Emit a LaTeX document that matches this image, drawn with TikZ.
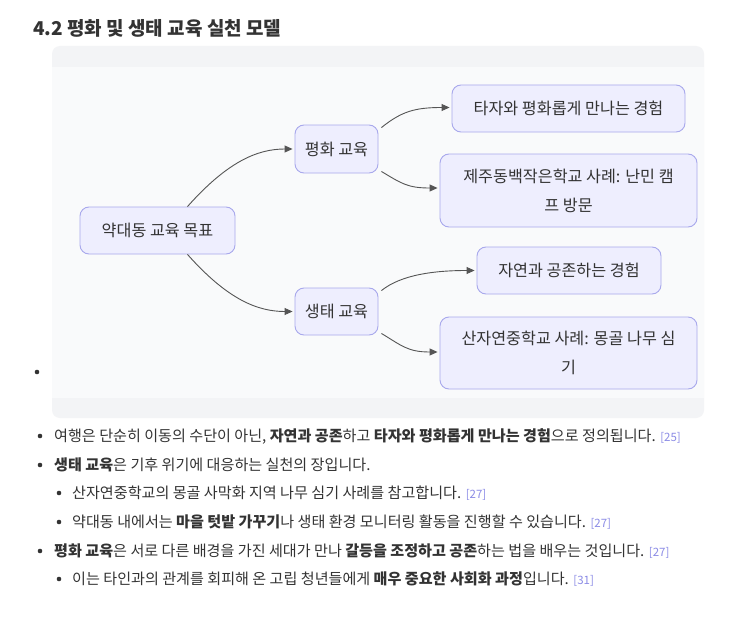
\documentclass[tikz,border=0pt]{standalone}
\usepackage{fontspec}
\setmainfont{Noto Sans CJK KR}
\usetikzlibrary{arrows.meta}
\definecolor{txt}{HTML}{333333}
\definecolor{nodefill}{HTML}{EEEEFE}
\definecolor{nodedraw}{HTML}{A8A8EC}
\definecolor{edgecol}{HTML}{555555}
\definecolor{boxgray}{HTML}{F3F4F6}
\definecolor{boxinner}{HTML}{F9FAFB}
\definecolor{citecol}{HTML}{8C8CE6}
\newcommand{\citeref}[1]{{\fontsize{11.5}{14}\selectfont\color{citecol}[#1]}}
\begin{document}
\begin{tikzpicture}[x=1pt,y=-1pt,
  mnode/.style={draw=nodedraw, fill=nodefill, rounded corners=9pt, line width=0.9pt, text=txt,
    font=\fontsize{16.2}{29}\selectfont, align=center, inner sep=0pt},
  conn/.style={draw=edgecol, line width=0.9pt, -{Triangle[length=8pt,width=7pt]}},
  dot/.style={circle, fill=txt, inner sep=0pt, minimum size=4.6pt},
  line/.style={anchor=base west, inner sep=0pt, text=txt, font=\fontsize{15.1}{18}\selectfont}
]
\useasboundingbox (0,0) rectangle (742,618);
\fill[white] (0,0) rectangle (742,618);

% title
\node[anchor=base west, inner sep=0pt, text=txt, font=\fontsize{19}{22}\selectfont\bfseries] (title) at (33,36) {4.2 평화 및 생태 교육 실천 모델};

% container
\fill[boxgray, rounded corners=8pt] (52,46) rectangle (704,418);
\fill[boxinner] (52,67) rectangle (704,398);

% diagram nodes
\node[mnode, minimum width=155pt, minimum height=47pt] (goal) at (157.5,230.5) {약대동 교육 목표};
\node[mnode, minimum width=83pt, minimum height=48pt] (peace) at (336.5,149) {평화 교육};
\node[mnode, minimum width=83pt, minimum height=47pt] (eco) at (336.5,311.5) {생태 교육};
\node[mnode, minimum width=233pt, minimum height=47pt] (p1) at (568.5,108.5) {타자와 평화롭게 만나는 경험};
\node[mnode, minimum width=257pt, minimum height=73pt] (p2) at (568.5,190.5) {제주동백작은학교 사례: 난민 캠\\프 방문};
\node[mnode, minimum width=184pt, minimum height=47pt] (e1) at (569,270.5) {자연과 공존하는 경험};
\node[mnode, minimum width=257pt, minimum height=72pt] (e2) at (568.5,353) {산자연중학교 사례: 몽골 나무 심\\기};

% connectors
\draw[conn] ([xshift=30pt]goal.north) .. controls +(40,-45) and +(-35,0) .. ([xshift=-2pt]peace.west);
\draw[conn] ([xshift=30pt]goal.south) .. controls +(40,45) and +(-35,0) .. ([xshift=-2pt]eco.west);
\draw[conn] ([xshift=3pt,yshift=-3pt]peace.north east) .. controls +(20,-16) and +(-35,0) .. ([xshift=-2pt,yshift=1pt]p1.west);
\draw[conn] ([xshift=3pt,yshift=2pt]peace.south east) .. controls +(20,12) and +(-30,0) .. ([xshift=-2pt,yshift=2.5pt]p2.west);
\draw[conn] ([xshift=3pt,yshift=-3pt]eco.north east) .. controls +(20,-16) and +(-40,0) .. ([xshift=-2pt]e1.west);
\draw[conn] ([xshift=3pt,yshift=2pt]eco.south east) .. controls +(20,12) and +(-30,0) .. ([xshift=-2pt,yshift=1pt]e2.west);

% bullet of diagram item
\node[dot] (b0) at (37,372) {};

% bullet list
\node[dot] (b1) at (40,436) {};
\node[line] (t1) at (54,441.5) {여행은 단순히 이동의 수단이 아닌, \textbf{자연과 공존}하고 \textbf{타자와 평화롭게 만나는 경험}으로 정의됩니다. \citeref{25}};
\node[dot] (b2) at (40,465) {};
\node[line] (t2) at (54,470.5) {\textbf{생태 교육}은 기후 위기에 대응하는 실천의 장입니다.};
\node[dot] (b3) at (59,493) {};
\node[line] (t3) at (72,498.5) {산자연중학교의 몽골 사막화 지역 나무 심기 사례를 참고합니다. \citeref{27}};
\node[dot] (b4) at (59,522) {};
\node[line] (t4) at (72,527.5) {약대동 내에서는 \textbf{마을 텃밭 가꾸기}나 생태 환경 모니터링 활동을 진행할 수 있습니다. \citeref{27}};
\node[dot] (b5) at (40,551) {};
\node[line] (t5) at (54,556.5) {\textbf{평화 교육}은 서로 다른 배경을 가진 세대가 만나 \textbf{갈등을 조정하고 공존}하는 법을 배우는 것입니다. \citeref{27}};
\node[dot] (b6) at (59,579) {};
\node[line] (t6) at (72,584.5) {이는 타인과의 관계를 회피해 온 고립 청년들에게 \textbf{매우 중요한 사회화 과정}입니다. \citeref{31}};
\end{tikzpicture}
\end{document}
